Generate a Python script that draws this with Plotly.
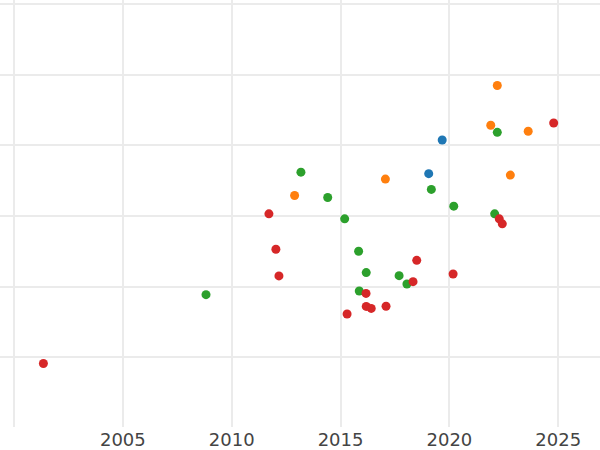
import plotly.graph_objects as go

# Data (x = year, y = value in arbitrary units; y tick labels hidden)
blue_x = [2019.67, 2019.05]
blue_y = [3.075, 2.599]

orange_x = [2012.89, 2017.06, 2022.20, 2021.90, 2023.62, 2022.80]
orange_y = [2.291, 2.522, 3.847, 3.284, 3.199, 2.579]

green_x = [2013.18, 2014.41, 2015.19, 2008.82, 2015.83, 2016.18, 2017.69,
           2015.86, 2022.20, 2019.17, 2020.20, 2022.08, 2018.05]
green_y = [2.621, 2.262, 1.960, 0.887, 1.501, 1.199, 1.156,
           0.939, 3.184, 2.376, 2.139, 2.031, 1.038]

red_x = [2001.35, 2011.71, 2012.03, 2012.17, 2015.30, 2016.17, 2016.18,
         2016.41, 2017.09, 2018.50, 2018.33, 2020.17, 2022.29, 2022.43, 2024.79]
red_y = [-0.088, 2.031, 1.529, 1.152, 0.613, 0.905, 0.721,
         0.692, 0.723, 1.373, 1.071, 1.180, 1.960, 1.889, 3.316]

x_ticks = [2000, 2005, 2010, 2015, 2020, 2025]
x_tick_labels = ["", "2005", "2010", "2015", "2020", "2025"]
y_ticks = [0, 1, 2, 3, 4, 5]

series = [
    ("blue", blue_x, blue_y, "#1f77b4"),
    ("orange", orange_x, orange_y, "#ff7f0e"),
    ("green", green_x, green_y, "#2ca02c"),
    ("red", red_x, red_y, "#d62728"),
]

fig = go.Figure()
for name, xs, ys, col in series:
    fig.add_trace(go.Scatter(x=xs, y=ys, mode="markers", name=name,
                             marker=dict(color=col, size=9)))

fig.update_layout(
    width=600, height=450,
    template="plotly_white",
    showlegend=False,
    margin=dict(l=0, r=0, t=0, b=23),
    paper_bgcolor="white", plot_bgcolor="white",
    font=dict(family="DejaVu Sans", size=18, color="#444"),
)
fig.update_xaxes(range=[1999.357, 2026.918], tickvals=x_ticks, ticktext=x_tick_labels,
                 showgrid=True, gridcolor="#ebebeb", gridwidth=2, zeroline=False,
                 showline=False, ticks="", automargin=False)
fig.update_yaxes(range=[-0.986, 5.057], tickvals=y_ticks, showticklabels=False,
                 showgrid=True, gridcolor="#ebebeb", gridwidth=2, zeroline=False,
                 showline=False, ticks="", automargin=False)

fig.write_html("out.html", config={"displayModeBar": False},
               post_script="document.body.style.margin='0';")
